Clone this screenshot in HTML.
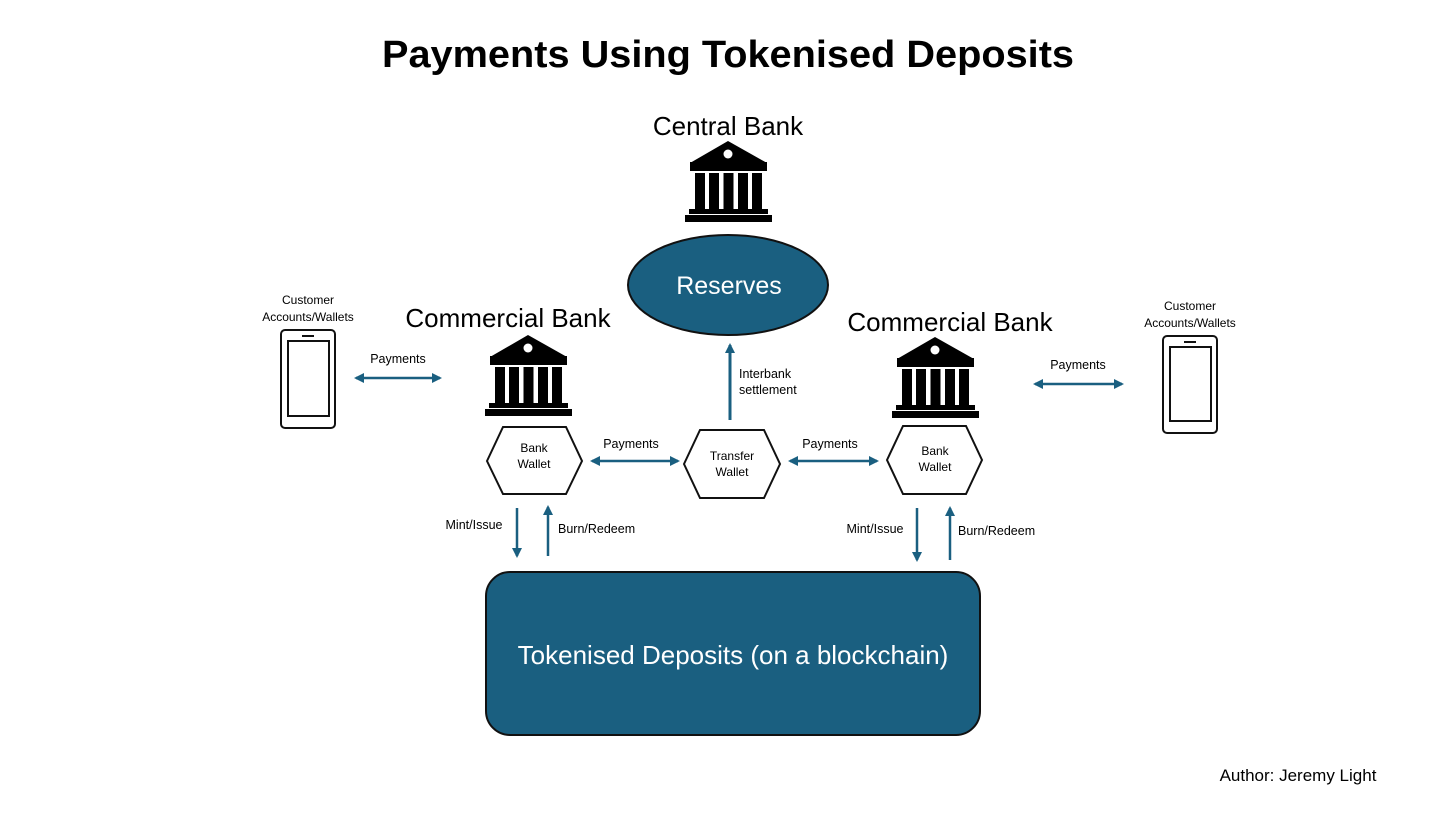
<!DOCTYPE html>
<html><head><meta charset="utf-8"><style>
html,body{margin:0;padding:0;background:#fff}
svg{display:block;font-family:"Liberation Sans",sans-serif}
</style></head><body>
<svg width="1456" height="819" viewBox="0 0 1456 819" xmlns="http://www.w3.org/2000/svg">
<defs>
<g id="bank">
<polygon points="43,0 82,22 5,22" fill="#000"/>
<rect x="5" y="21" width="77" height="9" fill="#000"/>
<circle cx="43" cy="13" r="4.5" fill="#fff"/>
<rect x="10" y="32" width="10" height="36" fill="#000"/>
<rect x="24" y="32" width="10" height="36" fill="#000"/>
<rect x="38.5" y="32" width="10" height="36" fill="#000"/>
<rect x="53" y="32" width="10" height="36" fill="#000"/>
<rect x="67" y="32" width="10" height="36" fill="#000"/>
<rect x="4" y="68" width="79" height="5" fill="#000"/>
<rect x="0" y="74" width="87" height="7" fill="#000"/>
</g>
<marker id="ah" viewBox="0 0 10 10" refX="8" refY="5" markerWidth="10" markerHeight="10" markerUnits="userSpaceOnUse" orient="auto-start-reverse">
<path d="M0,0 L10,5 L0,10 z" fill="#1a5f80"/>
</marker>
</defs>

<text x="728" y="67" text-anchor="middle" font-size="38" font-weight="bold" textLength="692" lengthAdjust="spacingAndGlyphs">Payments Using Tokenised Deposits</text>

<text x="728" y="135" text-anchor="middle" font-size="26">Central Bank</text>
<use href="#bank" x="685" y="141"/>
<ellipse cx="728" cy="285" rx="100" ry="50" fill="#1a5f80" stroke="#111" stroke-width="2"/>
<text x="729" y="294" text-anchor="middle" font-size="25" fill="#fff">Reserves</text>

<text x="508" y="327" text-anchor="middle" font-size="26">Commercial Bank</text>
<use href="#bank" x="485" y="335"/>
<text x="950" y="331" text-anchor="middle" font-size="26">Commercial Bank</text>
<use href="#bank" x="892" y="337"/>

<!-- phones -->
<text x="308" y="304" text-anchor="middle" font-size="12">Customer</text>
<text x="308" y="321" text-anchor="middle" font-size="12">Accounts/Wallets</text>
<rect x="281" y="330" width="54" height="98" rx="4" fill="#fff" stroke="#111" stroke-width="2"/>
<rect x="288" y="341" width="41" height="75" fill="#fff" stroke="#111" stroke-width="2"/>
<line x1="302" y1="336" x2="314" y2="336" stroke="#111" stroke-width="2"/>

<text x="1190" y="310" text-anchor="middle" font-size="12">Customer</text>
<text x="1190" y="327" text-anchor="middle" font-size="12">Accounts/Wallets</text>
<rect x="1163" y="336" width="54" height="97" rx="4" fill="#fff" stroke="#111" stroke-width="2"/>
<rect x="1170" y="347" width="41" height="74" fill="#fff" stroke="#111" stroke-width="2"/>
<line x1="1184" y1="342" x2="1196" y2="342" stroke="#111" stroke-width="2"/>

<!-- hexagons -->
<polygon points="487,461 503,427 566,427 582,461 566,494 503,494" fill="#fff" stroke="#111" stroke-width="2"/>
<text x="534" y="452" text-anchor="middle" font-size="12">Bank</text>
<text x="534" y="468" text-anchor="middle" font-size="12">Wallet</text>
<polygon points="684,464 700,430 764,430 780,464 764,498 700,498" fill="#fff" stroke="#111" stroke-width="2"/>
<text x="732" y="460" text-anchor="middle" font-size="12">Transfer</text>
<text x="732" y="476" text-anchor="middle" font-size="12">Wallet</text>
<polygon points="887,460 903,426 966,426 982,460 966,494 903,494" fill="#fff" stroke="#111" stroke-width="2"/>
<text x="935" y="455" text-anchor="middle" font-size="12">Bank</text>
<text x="935" y="471" text-anchor="middle" font-size="12">Wallet</text>

<!-- arrows -->
<g stroke="#1a5f80" stroke-width="2.5" fill="none">
<line x1="356" y1="378" x2="440" y2="378" marker-start="url(#ah)" marker-end="url(#ah)"/>
<line x1="592" y1="461" x2="678" y2="461" marker-start="url(#ah)" marker-end="url(#ah)"/>
<line x1="790" y1="461" x2="877" y2="461" marker-start="url(#ah)" marker-end="url(#ah)"/>
<line x1="1035" y1="384" x2="1122" y2="384" marker-start="url(#ah)" marker-end="url(#ah)"/>
<line x1="730" y1="420" x2="730" y2="345" stroke-width="3" marker-end="url(#ah)"/>
<line x1="517" y1="508" x2="517" y2="556" marker-end="url(#ah)"/>
<line x1="548" y1="556" x2="548" y2="507" marker-end="url(#ah)"/>
<line x1="917" y1="508" x2="917" y2="560" marker-end="url(#ah)"/>
<line x1="950" y1="560" x2="950" y2="508" marker-end="url(#ah)"/>
</g>
<text x="398" y="363" text-anchor="middle" font-size="12.5">Payments</text>
<text x="631" y="448" text-anchor="middle" font-size="12.5">Payments</text>
<text x="830" y="448" text-anchor="middle" font-size="12.5">Payments</text>
<text x="1078" y="369" text-anchor="middle" font-size="12.5">Payments</text>
<text x="739" y="378" font-size="12.5">Interbank</text>
<text x="739" y="394" font-size="12.5">settlement</text>
<text x="474" y="529" text-anchor="middle" font-size="12.5">Mint/Issue</text>
<text x="558" y="533" font-size="12.5">Burn/Redeem</text>
<text x="875" y="533" text-anchor="middle" font-size="12.5">Mint/Issue</text>
<text x="958" y="535" font-size="12.5">Burn/Redeem</text>

<rect x="486" y="572" width="494" height="163" rx="24" fill="#1a5f80" stroke="#111" stroke-width="2"/>
<text x="733" y="664" text-anchor="middle" font-size="26" fill="#fff">Tokenised Deposits (on a blockchain)</text>

<text x="1298" y="781" text-anchor="middle" font-size="17">Author: Jeremy Light</text>
</svg>
</body></html>
